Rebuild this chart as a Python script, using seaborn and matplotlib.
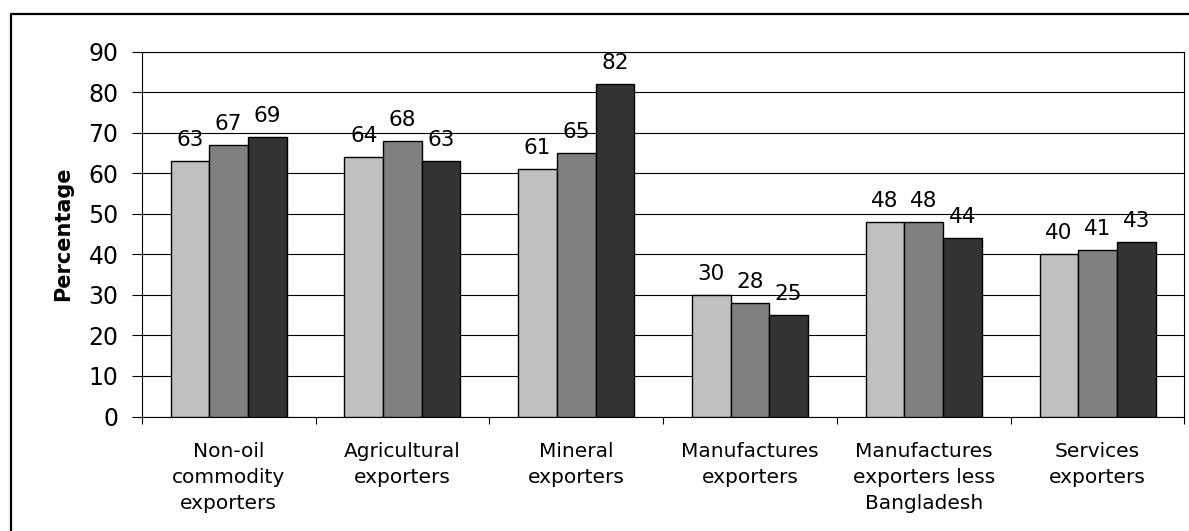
import numpy as np
import pandas as pd
import matplotlib
matplotlib.use("Agg")
import matplotlib.pyplot as plt
from matplotlib.lines import Line2D
import seaborn as sns

# Export groups and the share (%) for each of the three periods
categories = [
    "Non-oil\ncommodity\nexporters",
    "Agricultural\nexporters",
    "Mineral\nexporters",
    "Manufactures\nexporters",
    "Manufactures\nexporters less\nBangladesh",
    "Services\nexporters",
]
series_names = ["Period 1", "Period 2", "Period 3"]
period1 = [63, 64, 61, 30, 48, 40]
period2 = [67, 68, 65, 28, 48, 41]
period3 = [69, 63, 82, 25, 44, 43]
yticks = [0, 10, 20, 30, 40, 50, 60, 70, 80, 90]

bar_colors = ["#C0C0C0", "#808080", "#333333"]

df = pd.DataFrame({
    "group": categories * 3,
    "series": [s for s in series_names for _ in categories],
    "value": period1 + period2 + period3,
})

sns.set_style("white")
plt.rcParams["font.family"] = ["DejaVu Sans"]
plt.rcParams.update({
    "text.color": "black",
    "axes.labelcolor": "black",
    "xtick.color": "black",
    "ytick.color": "black",
})

fig = plt.figure(figsize=(11.89, 5.31), dpi=100)
ax = fig.add_axes([0.1192, 0.2156, 0.877, 0.687])

sns.barplot(
    data=df, x="group", y="value", hue="series",
    order=categories, hue_order=series_names,
    palette=bar_colors, saturation=1, width=2 / 3,
    edgecolor="black", linewidth=1.0, errorbar=None,
    legend=False, ax=ax, zorder=3,
)

# Value labels above each bar
for cont in ax.containers:
    ax.bar_label(cont, fmt="%g", padding=8, fontsize=15.5, color="black")

# Axes, grid and ticks
ax.set_ylim(0, 90)
ax.set_xlim(-0.5, len(categories) - 0.5)
ax.set_yticks(yticks)
ax.yaxis.grid(True, color="black", linewidth=0.8, zorder=0)
ax.set_axisbelow(True)
ax.tick_params(axis="y", which="major", direction="out", length=7.2,
               width=0.8, color="black", pad=9.5, labelsize=17,
               labelcolor="black", left=True)

ax.set_xticks(range(len(categories)))
ax.set_xticklabels(categories, fontsize=14.5, linespacing=1.47, color="black")
ax.tick_params(axis="x", which="major", length=0, pad=18.5)
ax.set_xticks(np.arange(-0.5, len(categories), 1), minor=True)
ax.tick_params(axis="x", which="minor", direction="out", length=5,
               width=0.8, color="black", bottom=True)

ax.set_xlabel("")
ax.set_ylabel("Percentage", fontsize=15, fontweight="bold", labelpad=11,
              color="black")

for side in ["left", "bottom", "right", "top"]:
    ax.spines[side].set_visible(True)
    ax.spines[side].set_color("black")
    ax.spines[side].set_linewidth(0.8)

# Outer chart frame
W, H = 1189, 531
fig.add_artist(Line2D([11 / W, 1.0], [1 - 14 / H, 1 - 14 / H],
                      transform=fig.transFigure, color="black", linewidth=1.6))
fig.add_artist(Line2D([11 / W, 11 / W], [0.0, 1 - 14 / H],
                      transform=fig.transFigure, color="black", linewidth=1.6))

fig.savefig("out.png", dpi=100)
